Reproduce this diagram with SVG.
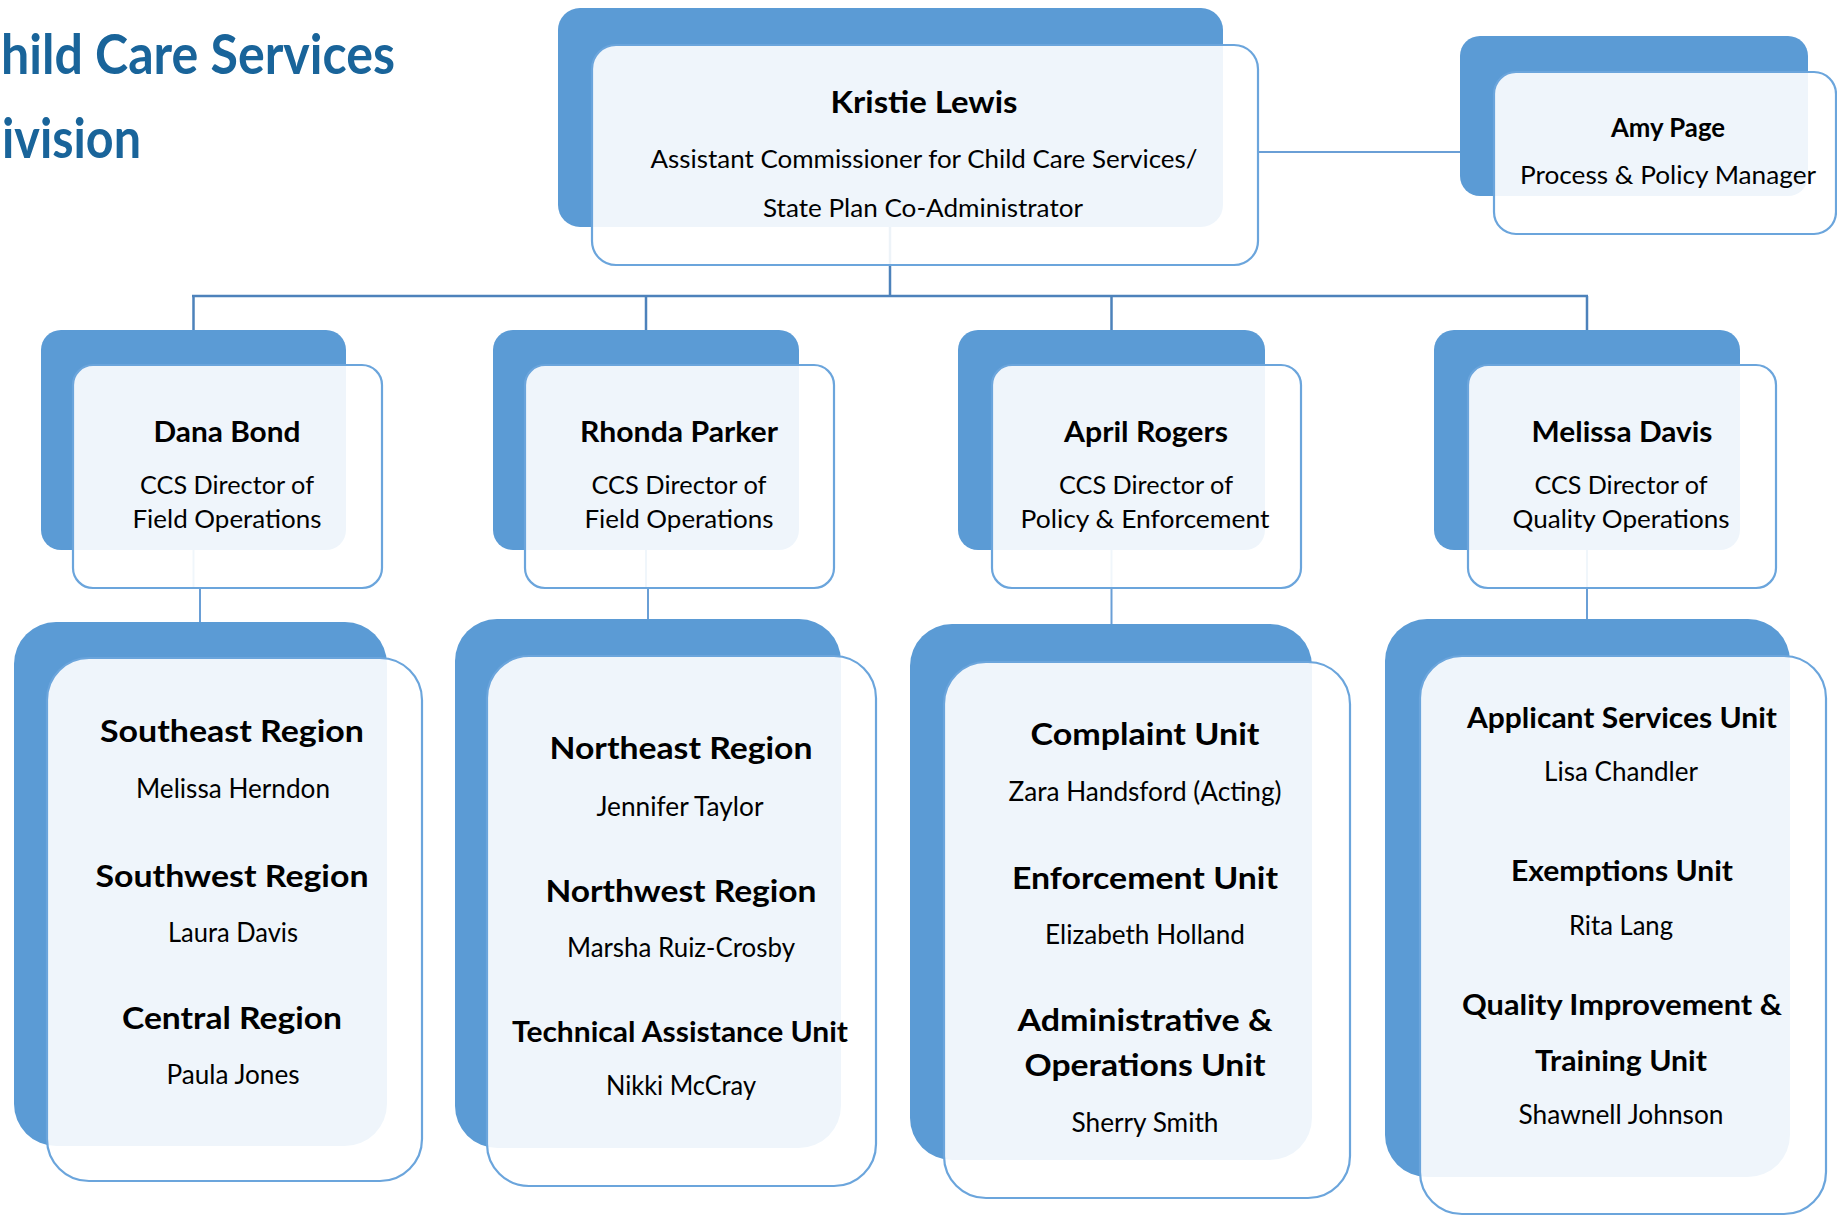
<svg xmlns="http://www.w3.org/2000/svg" width="1837" height="1217" viewBox="0 0 1837 1217">
<style>
.bg{fill:#ffffff}
.back{fill:#5b9bd5}
.front{fill:#ffffff;fill-opacity:0.9;stroke:#6ba5dc;stroke-width:2.2}
text{font-family:Lato,"Liberation Sans","Noto Sans",sans-serif;fill:#000;text-anchor:middle}
.title{font-weight:700;font-size:56px;fill:#19649a;text-anchor:start}
.b30{font-weight:700;font-size:30px}
.b28{font-weight:700;font-size:28px}
.b26{font-weight:700;font-size:26px}
.r26{font-weight:400;font-size:26px}
.r25{font-weight:400;font-size:25.5px}
.bus{fill:none;stroke:#4d82bb;stroke-width:2.5}
.conn{fill:none;stroke:#6a9fd6;stroke-width:2}
</style>
<rect class="bg" x="0" y="0" width="1837" height="1217"/>

<g id="title">
<text class="title" x="1" y="74" textLength="394" lengthAdjust="spacingAndGlyphs">hild Care Services</text>
<text class="title" x="2" y="158" textLength="139" lengthAdjust="spacingAndGlyphs">ivision</text>
</g>

<g id="connectors">
<path class="bus" d="M890,227 V296"/>
<path class="bus" d="M192,296 H1588"/>
<path class="bus" d="M193.5,296 V330 M646,296 V330 M1111.5,296 V330 M1587,296 V330"/>
<path class="conn" d="M1258,152 H1460"/>
<path class="conn" d="M193.5,550 V588 H200 V622"/>
<path class="conn" d="M646,550 V588 H648 V619"/>
<path class="conn" d="M1111.5,550 V624"/>
<path class="conn" d="M1587,550 V619"/>
</g>

<g id="node-kristie-lewis">
<rect class="back" x="558" y="8" width="665" height="219" rx="22"/>
<rect class="front" x="592" y="45" width="666" height="220" rx="24"/>
<text class="b30" x="924" y="113" textLength="187" lengthAdjust="spacingAndGlyphs">Kristie Lewis</text>
<text class="r25" x="924" y="168" textLength="547" lengthAdjust="spacingAndGlyphs">Assistant Commissioner for Child Care Services/</text>
<text class="r25" x="923" y="217" textLength="320" lengthAdjust="spacingAndGlyphs">State Plan Co-Administrator</text>
</g>

<g id="node-amy-page">
<rect class="back" x="1460" y="36" width="348" height="160" rx="20"/>
<rect class="front" x="1494" y="72" width="342" height="162" rx="22"/>
<text class="b26" x="1668" y="137" textLength="114" lengthAdjust="spacingAndGlyphs">Amy Page</text>
<text class="r25" x="1668" y="184" textLength="296" lengthAdjust="spacingAndGlyphs">Process &amp; Policy Manager</text>
</g>

<g id="node-dana-bond">
<rect class="back" x="41" y="330" width="305" height="220" rx="20"/>
<rect class="front" x="73" y="365" width="309" height="223" rx="20"/>
<text class="b28" x="227" y="442" textLength="147" lengthAdjust="spacingAndGlyphs">Dana Bond</text>
<text class="r25" x="227" y="494" textLength="174" lengthAdjust="spacingAndGlyphs">CCS Director of</text>
<text class="r25" x="227" y="528" textLength="189" lengthAdjust="spacingAndGlyphs">Field Operations</text>
</g>

<g id="node-rhonda-parker">
<rect class="back" x="493" y="330" width="306" height="220" rx="20"/>
<rect class="front" x="525" y="365" width="309" height="223" rx="20"/>
<text class="b28" x="679" y="442" textLength="198" lengthAdjust="spacingAndGlyphs">Rhonda Parker</text>
<text class="r25" x="679" y="494" textLength="175" lengthAdjust="spacingAndGlyphs">CCS Director of</text>
<text class="r25" x="679" y="528" textLength="189" lengthAdjust="spacingAndGlyphs">Field Operations</text>
</g>

<g id="node-april-rogers">
<rect class="back" x="958" y="330" width="307" height="220" rx="20"/>
<rect class="front" x="992" y="365" width="309" height="223" rx="20"/>
<text class="b28" x="1146" y="442" textLength="164" lengthAdjust="spacingAndGlyphs">April Rogers</text>
<text class="r25" x="1146" y="494" textLength="174" lengthAdjust="spacingAndGlyphs">CCS Director of</text>
<text class="r25" x="1145" y="528" textLength="249" lengthAdjust="spacingAndGlyphs">Policy &amp; Enforcement</text>
</g>

<g id="node-melissa-davis">
<rect class="back" x="1434" y="330" width="306" height="220" rx="20"/>
<rect class="front" x="1468" y="365" width="308" height="223" rx="20"/>
<text class="b28" x="1622" y="442" textLength="181" lengthAdjust="spacingAndGlyphs">Melissa Davis</text>
<text class="r25" x="1621" y="494" textLength="173" lengthAdjust="spacingAndGlyphs">CCS Director of</text>
<text class="r25" x="1621" y="528" textLength="217" lengthAdjust="spacingAndGlyphs">Quality Operations</text>
</g>

<g id="node-dana-units">
<rect class="back" x="14" y="622" width="373" height="524" rx="42"/>
<rect class="front" x="47" y="658" width="375" height="523" rx="42"/>
<text class="b30" x="232" y="742" textLength="264" lengthAdjust="spacingAndGlyphs">Southeast Region</text>
<text class="r26" x="233" y="798" textLength="194" lengthAdjust="spacingAndGlyphs">Melissa Herndon</text>
<text class="b30" x="232" y="887" textLength="273" lengthAdjust="spacingAndGlyphs">Southwest Region</text>
<text class="r26" x="233" y="942" textLength="130" lengthAdjust="spacingAndGlyphs">Laura Davis</text>
<text class="b30" x="232" y="1029" textLength="220" lengthAdjust="spacingAndGlyphs">Central Region</text>
<text class="r26" x="233" y="1084" textLength="133" lengthAdjust="spacingAndGlyphs">Paula Jones</text>
</g>

<g id="node-rhonda-units">
<rect class="back" x="455" y="619" width="386" height="529" rx="42"/>
<rect class="front" x="487" y="656" width="389" height="530" rx="42"/>
<text class="b30" x="681" y="759" textLength="263" lengthAdjust="spacingAndGlyphs">Northeast Region</text>
<text class="r26" x="680" y="816" textLength="167" lengthAdjust="spacingAndGlyphs">Jennifer Taylor</text>
<text class="b30" x="681" y="902" textLength="271" lengthAdjust="spacingAndGlyphs">Northwest Region</text>
<text class="r26" x="681" y="957" textLength="228" lengthAdjust="spacingAndGlyphs">Marsha Ruiz-Crosby</text>
<text class="b28" x="680" y="1042" textLength="336" lengthAdjust="spacingAndGlyphs">Technical Assistance Unit</text>
<text class="r26" x="681" y="1095" textLength="150" lengthAdjust="spacingAndGlyphs">Nikki McCray</text>
</g>

<g id="node-april-units">
<rect class="back" x="910" y="624" width="402" height="536" rx="42"/>
<rect class="front" x="944" y="662" width="406" height="536" rx="42"/>
<text class="b30" x="1145" y="745" textLength="229" lengthAdjust="spacingAndGlyphs">Complaint Unit</text>
<text class="r26" x="1145" y="801" textLength="273" lengthAdjust="spacingAndGlyphs">Zara Handsford (Acting)</text>
<text class="b30" x="1145" y="889" textLength="266" lengthAdjust="spacingAndGlyphs">Enforcement Unit</text>
<text class="r26" x="1145" y="944" textLength="200" lengthAdjust="spacingAndGlyphs">Elizabeth Holland</text>
<text class="b30" x="1145" y="1031" textLength="255" lengthAdjust="spacingAndGlyphs">Administrative &amp;</text>
<text class="b30" x="1145" y="1076" textLength="241" lengthAdjust="spacingAndGlyphs">Operations Unit</text>
<text class="r26" x="1145" y="1132" textLength="147" lengthAdjust="spacingAndGlyphs">Sherry Smith</text>
</g>

<g id="node-melissa-units">
<rect class="back" x="1385" y="619" width="405" height="558" rx="42"/>
<rect class="front" x="1420" y="656" width="406" height="558" rx="42"/>
<text class="b28" x="1622" y="728" textLength="310" lengthAdjust="spacingAndGlyphs">Applicant Services Unit</text>
<text class="r26" x="1621" y="781" textLength="154" lengthAdjust="spacingAndGlyphs">Lisa Chandler</text>
<text class="b28" x="1622" y="881" textLength="222" lengthAdjust="spacingAndGlyphs">Exemptions Unit</text>
<text class="r26" x="1621" y="935" textLength="104" lengthAdjust="spacingAndGlyphs">Rita Lang</text>
<text class="b28" x="1622" y="1015" textLength="320" lengthAdjust="spacingAndGlyphs">Quality Improvement &amp;</text>
<text class="b28" x="1621" y="1071" textLength="172" lengthAdjust="spacingAndGlyphs">Training Unit</text>
<text class="r26" x="1621" y="1124" textLength="205" lengthAdjust="spacingAndGlyphs">Shawnell Johnson</text>
</g>
</svg>
